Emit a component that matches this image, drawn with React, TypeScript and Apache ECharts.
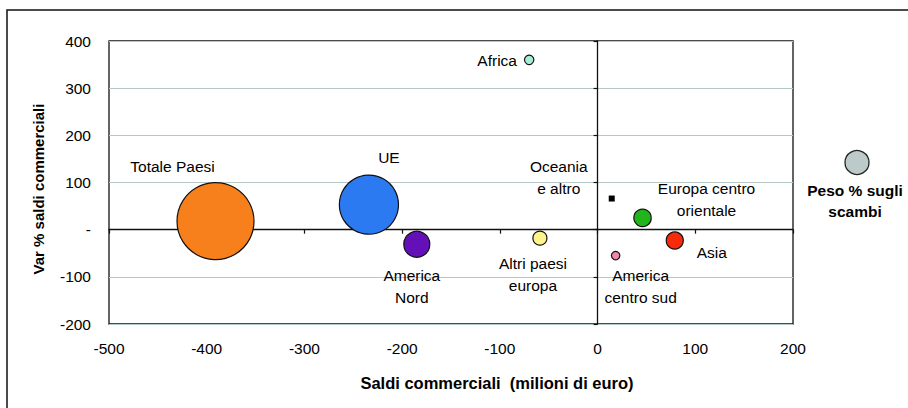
import React, { useEffect, useRef } from "react";
import * as echarts from "echarts";

// Areas (bubbles): trade balance vs % change of the balance, sized by share of trade
const categories = [
  "Totale Paesi",
  "UE",
  "America\nNord",
  "Altri paesi\neuropa",
  "Oceania\ne altro",
  "Europa centro\norientale",
  "Asia",
  "America\ncentro sud",
  "Africa",
];
const saldi = [-391, -234, -185, -59, 14.5, 46, 79, 18.5, -70];
const varSaldi = [18, 53, -31, -18, 66, 25, -23, -55, 360];
const pesoScambi = [100, 59, 11.4, 3.3, 0.5, 5.1, 4.9, 1.2, 1.5];

const xTicks = [-500, -400, -300, -200, -100, 0, 100, 200];
const yTicks = [-200, -100, 0, 100, 200, 300, 400];

// Styling
const bubbleColors = [
  "#f8801c",
  "#2b7af2",
  "#6410b8",
  "#fff48a",
  "#000000",
  "#22b41c",
  "#f82a0c",
  "#f088a8",
  "#a8ecd8",
];
const bubbleSymbols = ["circle", "circle", "circle", "circle", "rect", "circle", "circle", "circle", "circle"];
const labelOffsets: [number, number][] = [
  [-43, -55],
  [20, -47],
  [-5, 42],
  [-7, 36],
  [-53, -21],
  [64, -18],
  [37, 12],
  [25, 31],
  [-32, 1],
];

const FONT = "'Liberation Sans', Arial, sans-serif";
const MAX_DIAMETER = 77;

export default function App() {
  const ref = useRef<HTMLDivElement>(null);

  useEffect(() => {
    if (!ref.current) return;
    const chart = echarts.init(ref.current, undefined, { renderer: "svg" });

    const data = categories.map((name, i) => ({
      name,
      value: [saldi[i], varSaldi[i], pesoScambi[i]],
      symbol: bubbleSymbols[i],
      itemStyle: {
        color: bubbleColors[i],
        opacity: 1,
        borderColor: "#111",
        borderWidth: bubbleSymbols[i] === "rect" ? 0 : 1.2,
      },
      label: { offset: labelOffsets[i] },
    }));

    const xMin = xTicks[0];
    const xMax = xTicks[xTicks.length - 1];
    const yMin = yTicks[0];
    const yMax = yTicks[yTicks.length - 1];

    chart.setOption({
      animation: false,
      backgroundColor: "#ffffff",
      grid: {
        left: 109,
        top: 41,
        right: 115,
        bottom: 84,
        show: true,
        borderColor: "#111",
        borderWidth: 1.3,
        backgroundColor: "transparent",
      },
      xAxis: [
        {
          type: "value",
          min: xMin,
          max: xMax,
          interval: 100,
          position: "bottom",
          axisLine: { show: false, onZero: false },
          axisTick: { show: false },
          splitLine: { show: false },
          axisLabel: {
            color: "#000",
            fontSize: 15.5,
            fontFamily: FONT,
            margin: 16,
          },
        },
        {
          type: "value",
          min: xMin,
          max: xMax,
          interval: 100,
          position: "bottom",
          z: 1,
          axisLine: {
            show: true,
            onZero: true,
            onZeroAxisIndex: 0,
            lineStyle: { color: "#111", width: 1.3 },
          },
          axisTick: { show: true, length: 4, lineStyle: { color: "#111", width: 1.2 } },
          axisLabel: { show: false },
          splitLine: { show: false },
        },
      ],
      yAxis: [
        {
          type: "value",
          min: yMin,
          max: yMax,
          interval: 100,
          position: "left",
          z: 0,
          axisLine: { show: false, onZero: false },
          axisTick: { show: false },
          splitLine: { show: true, lineStyle: { color: "#b4c8c8", width: 1.2 } },
          axisLabel: {
            color: "#000",
            fontSize: 15.5,
            fontFamily: FONT,
            margin: 18,
            formatter: (v: number) => (v === 0 ? "-" : String(v)),
          },
        },
        {
          type: "value",
          min: yMin,
          max: yMax,
          interval: 100,
          position: "left",
          z: 1,
          axisLine: {
            show: true,
            onZero: true,
            onZeroAxisIndex: 0,
            lineStyle: { color: "#111", width: 1.3 },
          },
          axisTick: { show: true, length: 4, lineStyle: { color: "#111", width: 1.2 } },
          axisLabel: { show: false },
          splitLine: { show: false },
        },
      ],
      series: [
        {
          type: "scatter",
          name: "Peso % sugli scambi",
          xAxisIndex: 0,
          yAxisIndex: 0,
          z: 3,
          symbolSize: (val: number[], params: any) =>
            params && params.dataIndex === 4
              ? 6
              : MAX_DIAMETER * Math.sqrt(val[2] / 100),
          data,
          itemStyle: { opacity: 1 },
          emphasis: { disabled: true },
          label: {
            show: true,
            position: "inside",
            formatter: (p: any) => p.name,
            color: "#000",
            fontSize: 15.5,
            fontFamily: FONT,
            lineHeight: 22,
            align: "center",
            verticalAlign: "middle",
          },
        },
      ],
      graphic: [
        {
          type: "rect",
          silent: true,
          shape: { x: 7, y: 10, width: 1000, height: 600 },
          style: { fill: "transparent", stroke: "#111", lineWidth: 1.5 },
        },
        {
          type: "text",
          x: 497,
          y: 383,
          style: {
            text: "Saldi commerciali  (milioni di euro)",
            font: `bold 16.5px ${FONT}`,
            fill: "#000",
            align: "center",
            verticalAlign: "middle",
          },
        },
        {
          type: "text",
          x: 38,
          y: 189,
          rotation: Math.PI / 2,
          style: {
            text: "Var % saldi commerciali",
            font: `bold 15px ${FONT}`,
            fill: "#000",
            align: "center",
            verticalAlign: "middle",
          },
        },
        {
          type: "circle",
          shape: { cx: 857, cy: 162.5, r: 12 },
          style: { fill: "#bccaca", stroke: "#222", lineWidth: 1.3 },
        },
        {
          type: "text",
          x: 855,
          y: 201,
          style: {
            text: "Peso % sugli\nscambi",
            font: `bold 15.5px ${FONT}`,
            lineHeight: 21,
            fill: "#000",
            align: "center",
            verticalAlign: "middle",
          },
        },
      ],
    });

    return () => chart.dispose();
  }, []);

  return (
    <div
      ref={ref}
      style={{ position: "fixed", left: 0, top: 0, width: 908, height: 408 }}
    />
  );
}
